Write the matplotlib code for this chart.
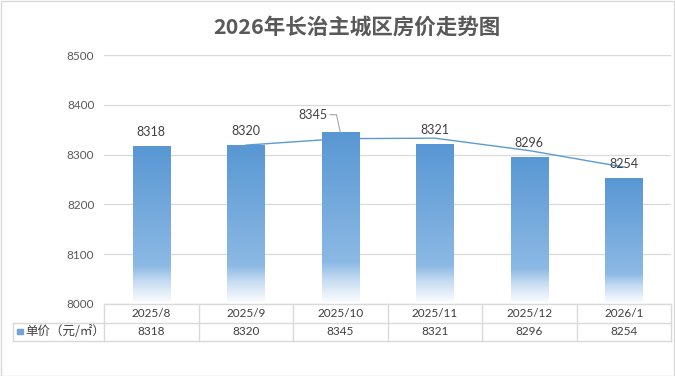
import numpy as np
import matplotlib
matplotlib.use("Agg")
import matplotlib.pyplot as plt
from matplotlib.colors import LinearSegmentedColormap

plt.rcParams['font.family'] = ['Lato', 'Noto Sans CJK SC', 'DejaVu Sans']

# 数据
months = ['2025/8', '2025/9', '2025/10', '2025/11', '2025/12', '2026/1']
prices = [8318, 8320, 8345, 8321, 8296, 8254]
# 趋势线 (从图上读出, 对应 2025/9 ~ 2026/1)
trend_idx = [1, 2, 3, 4, 5]
trend_vals = [8319, 8332, 8333, 8308, 8275]
series_name = '单价（元/㎡）'
title = '2026年长治主城区房价走势图'

W, H = 675, 376
fig = plt.figure(figsize=(W / 100, H / 100), dpi=100)

# 外框
fig.patches.append(plt.Rectangle((0.5 / W, 0.5 / H), 1 - 1.5 / W, 1 - 1.5 / H,
                                 transform=fig.transFigure, fill=False,
                                 edgecolor='#D9D9D9', lw=1))

fig.text(357 / W, 1 - 27 / H, title, ha='center', va='center',
         fontsize=15.5, fontweight='bold', color='#595959',
         family=['Noto Sans CJK SC', 'DejaVu Sans'])

ax = fig.add_axes([104 / W, 1 - 304 / H, (671 - 104) / W, (304 - 55) / H])
ax.set_xlim(-0.5, len(months) - 0.5)
ax.set_ylim(8000, 8500)
ax.set_yticks(np.arange(8000, 8501, 100))
ax.set_xticks([])
ax.tick_params(axis='y', length=0, pad=7, labelsize=8.5, labelcolor='#595959')
for s in ax.spines.values():
    s.set_visible(False)
ax.grid(axis='y', color='#D9D9D9', lw=0.9)
ax.set_axisbelow(True)

x = np.arange(len(months))
bars = ax.bar(x, prices, width=0.395, color='none', edgecolor='none', zorder=2)

cmap = LinearSegmentedColormap.from_list('bar', [
    (0.0, (88 / 255, 151 / 255, 211 / 255)),
    (0.76, (140 / 255, 185 / 255, 228 / 255)),
    (0.86, (198 / 255, 220 / 255, 242 / 255)),
    (1.0, (1, 1, 1)),
])
grad = np.linspace(0, 1, 256).reshape(-1, 1)
for b in bars:
    x0, w, h = b.get_x(), b.get_width(), b.get_height()
    im = ax.imshow(grad, cmap=cmap, aspect='auto', origin='upper',
                   extent=(x0, x0 + w, 8000, h), zorder=2, interpolation='bilinear')
    im.set_clip_path(b)

# 趋势线在柱子后面
ax.plot(trend_idx, trend_vals, color='#5B9BD5', lw=1.0, zorder=1.5)

for i, v in enumerate(prices):
    if i == 2:
        ax.annotate(str(v), xy=(i, v), xytext=(-20, 12.6), textcoords='offset points',
                    ha='center', va='center', fontsize=9, color='#404040',
                    arrowprops=dict(arrowstyle='-', color='#A6A6A6', lw=0.8,
                                    shrinkA=0, shrinkB=0,
                                    connectionstyle='angle,angleA=0,angleB=102,rad=0'),
                    zorder=4)
    else:
        ax.annotate(str(v), xy=(i, v), xytext=(0, 10), textcoords='offset points',
                    ha='center', va='center', fontsize=9, color='#404040', zorder=4)
ax.set_ylim(8000, 8500)

# 数据表
tab = fig.add_axes([13 / W, 1 - 341 / H, (671 - 13) / W, (341 - 304) / H])
left = -0.5 - 91 / 94.5
tab.set_xlim(left, len(months) - 0.5)
tab.set_ylim(0, 2)
tab.axis('off')
lc = '#D9D9D9'
n = len(months)
tab.plot([-0.5, n - 0.5], [2, 2], color=lc, lw=1, clip_on=False)
tab.plot([left, n - 0.5], [1, 1], color=lc, lw=1, clip_on=False)
tab.plot([left, n - 0.5], [0, 0], color=lc, lw=1, clip_on=False)
tab.plot([left, left], [0, 1], color=lc, lw=1, clip_on=False)
for k in range(n + 1):
    tab.plot([k - 0.5, k - 0.5], [0, 2], color=lc, lw=1, clip_on=False)
for i, (m, v) in enumerate(zip(months, prices)):
    tab.text(i, 1.5, m, ha='center', va='center', fontsize=8.5, color='#404040')
    tab.text(i, 0.5, str(v), ha='center', va='center', fontsize=8.5, color='#404040')
tab.add_patch(plt.Rectangle((left + 0.045, 0.36), 0.065, 0.3, color='#6FA3D9',
                            clip_on=False))
tab.text(left + 0.125, 0.5, series_name, ha='left', va='center', fontsize=9,
         color='#404040', family=['Noto Sans CJK SC', 'DejaVu Sans'])

fig.savefig('out.png', dpi=100)
